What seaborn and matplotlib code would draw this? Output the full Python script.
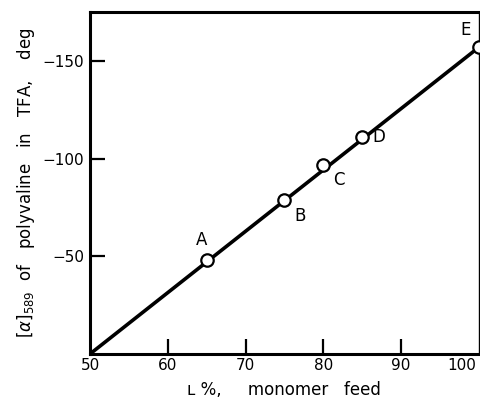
import seaborn as sns
import matplotlib.pyplot as plt
import matplotlib.transforms as mtrans
import pandas as pd

# samples
labels = ["A", "B", "C", "D", "E"]
feed = [65, 75, 80, 85, 100]
rotation = [-48, -79, -97, -111, -157]

# straight line through the points
fit_x = [50, 100]
fit_y = [0, -157]

df = pd.DataFrame({"feed": feed, "rot": rotation, "lab": labels})
fit = pd.DataFrame({"feed": fit_x, "rot": fit_y})

sns.set_style("ticks")
plt.rcParams['font.family'] = ['DejaVu Sans']
plt.rcParams['text.color'] = 'black'
plt.rcParams['axes.labelcolor'] = 'black'
plt.rcParams['xtick.color'] = 'black'
plt.rcParams['ytick.color'] = 'black'
plt.rcParams['axes.edgecolor'] = 'black'

fig = plt.figure(figsize=(4.8, 4.05), dpi=100)
ax = fig.add_axes([0.1875, 0.126, 0.81, 0.844])

sns.lineplot(data=fit, x="feed", y="rot", color="black", lw=2.6, ax=ax)
sns.scatterplot(data=df, x="feed", y="rot", s=80, facecolor="white",
                edgecolor="black", linewidth=1.6, zorder=5, ax=ax, clip_on=False)

offsets = {"A": (-4, 8, "center", "bottom"), "B": (7, -5, "left", "top"),
           "C": (7, -5, "left", "top"), "D": (7, 0, "left", "center"),
           "E": (-6, 6, "right", "bottom")}
for _, r in df.iterrows():
    dx, dy, ha, va = offsets[r["lab"]]
    ax.annotate(r["lab"], (r["feed"], r["rot"]), xytext=(dx, dy),
                textcoords="offset points", ha=ha, va=va, fontsize=12)

ax.set_xlim(50, 100)
ax.set_ylim(0, -175)
ax.set_xticks([50, 60, 70, 80, 90, 100])
ax.set_xticklabels(["50", "60", "70", "80", "90", "100"])
ax.set_yticks([-50, -100, -150])
ax.set_yticklabels(["\u221250", "\u2212100", "\u2212150"])
ax.tick_params(direction="in", length=11, width=1.6, labelsize=11, pad=4)
ax.tick_params(axis="x", pad=3)
for side in ["left", "bottom", "top"]:
    ax.spines[side].set_linewidth(2.2)
ax.spines["right"].set_linewidth(1.0)

# no tick marks at the ends of the x axis, only labels
for t in (ax.xaxis.get_major_ticks()[0], ax.xaxis.get_major_ticks()[-1]):
    t.tick1line.set_visible(False)

# keep the last x label inside the picture
last = ax.get_xticklabels()[-1]
last.set_transform(last.get_transform() +
                   mtrans.ScaledTranslation(-12 / 72, 0, fig.dpi_scale_trans))

ax.set_xlabel("\u029f %,     monomer   feed", fontsize=12, labelpad=6)
ax.set_ylabel(r"$[\alpha]_{589}$  of   polyvaline   in   TFA,    deg",
              fontsize=12, labelpad=4)

fig.savefig("out.png", dpi=100)
